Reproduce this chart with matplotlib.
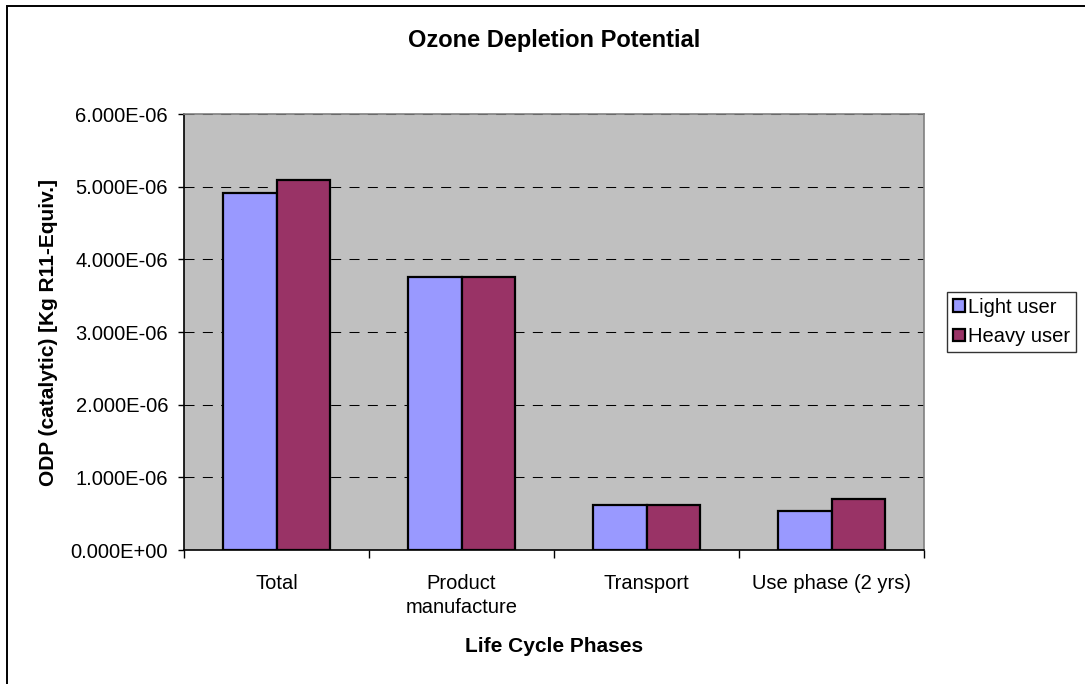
import matplotlib
matplotlib.use("Agg")
import matplotlib.pyplot as plt
import numpy as np
from matplotlib.patches import Rectangle
from matplotlib.ticker import FixedLocator, FuncFormatter

categories = ["Total", "Product\nmanufacture", "Transport", "Use phase (2 yrs)"]
series_names = ["Light user", "Heavy user"]
light_user = [4.915e-6, 3.755e-6, 0.623e-6, 0.536e-6]
heavy_user = [5.085e-6, 3.755e-6, 0.623e-6, 0.700e-6]
y_ticks = [0, 1e-6, 2e-6, 3e-6, 4e-6, 5e-6, 6e-6]

plt.rcParams['font.family'] = ['Liberation Sans', 'DejaVu Sans']

W, H = 1085, 684
fig = plt.figure(figsize=(W / 100, H / 100), dpi=100)
fig.patch.set_facecolor("white")

# outer chart border
fig.patches.append(Rectangle((7 / W, -0.2), 1.2, 1.2 - 6 / H, transform=fig.transFigure,
                             fill=False, edgecolor="black", linewidth=1.4))

left, right, top, bottom = 184, 924, 114, 550
ax = fig.add_axes([left / W, 1 - bottom / H, (right - left) / W, (bottom - top) / H])
ax.set_facecolor("#C0C0C0")

x = np.arange(len(categories))
bw = 0.287
ax.bar(x - bw / 2, light_user, bw, color="#9999FF", edgecolor="black", linewidth=1.6,
       label=series_names[0], zorder=3)
ax.bar(x + bw / 2, heavy_user, bw, color="#993366", edgecolor="black", linewidth=1.6,
       label=series_names[1], zorder=3)

ax.set_xlim(-0.5, len(categories) - 0.5)
ax.set_ylim(0, 6e-6)
ax.yaxis.set_major_locator(FixedLocator(y_ticks))
ax.yaxis.set_major_formatter(FuncFormatter(lambda v, p: ("%.3E" % v)))
ax.grid(axis="y", color="black", linestyle=(0, (9.6, 8)), linewidth=0.75, zorder=1)

ax.set_xticks(x)
ax.set_xticklabels(categories, fontsize=14.5, linespacing=1.35)
ax.tick_params(axis="x", length=0, pad=17)
ax.set_xticks(np.arange(len(categories) + 1) - 0.5, minor=True)
ax.tick_params(axis="x", which="minor", length=6, width=1, color="black")
ax.tick_params(axis="y", length=4.5, width=1, labelsize=14.5, pad=7)

for s in ["top", "right"]:
    ax.spines[s].set_color("#808080")
    ax.spines[s].set_linewidth(1.2)
ax.spines["left"].set_color("black")
ax.spines["bottom"].set_color("black")
ax.spines["left"].set_linewidth(1.2)
ax.spines["bottom"].set_linewidth(1.2)

fig.text((left + right) / 2 / W, 1 - 41 / H, "Ozone Depletion Potential",
         ha="center", va="center", fontsize=17, fontweight="bold")
fig.text((left + right) / 2 / W, 1 - 646 / H, "Life Cycle Phases",
         ha="center", va="center", fontsize=15, fontweight="bold")
fig.text(49 / W, 1 - (top + bottom) / 2 / H, "ODP (catalytic) [Kg R11-Equiv.]",
         ha="center", va="center", rotation=90, fontsize=15, fontweight="bold")

leg = ax.legend(loc="center left", bbox_to_anchor=(947 / W, 1 - 322 / H),
                bbox_transform=fig.transFigure, fontsize=14.5, frameon=True,
                fancybox=False, edgecolor="black", handlelength=0.6, handleheight=0.6,
                handletextpad=0.15, borderpad=0.3, labelspacing=0.5, borderaxespad=0)
leg.get_frame().set_linewidth(1.0)

fig.savefig("out.png", dpi=100, facecolor="white")
